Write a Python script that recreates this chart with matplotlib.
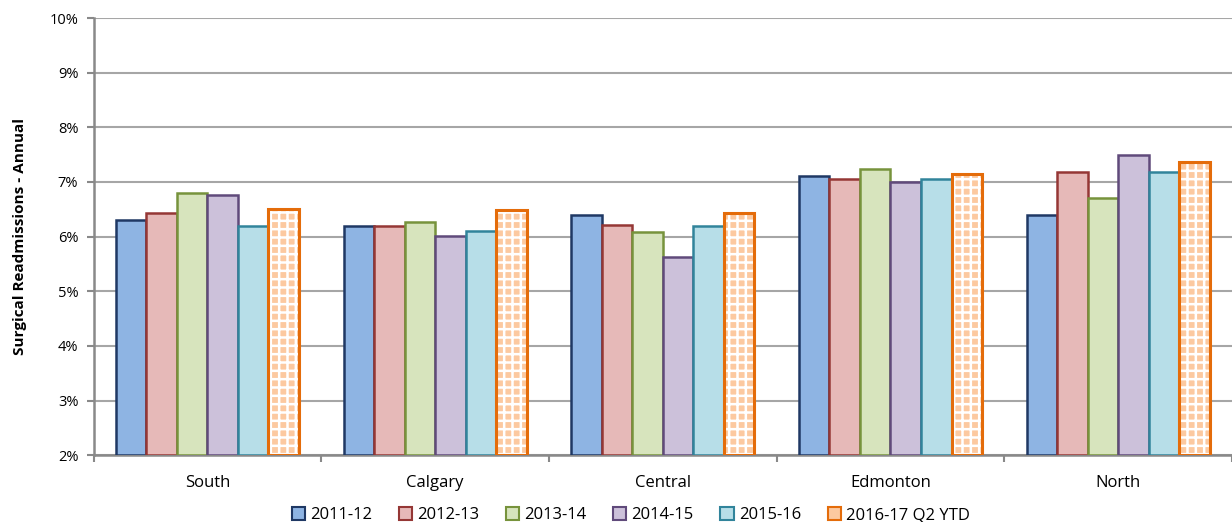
import matplotlib.pyplot as plt
import numpy as np
from matplotlib.patches import Patch

plt.rcParams["font.family"] = ["Open Sans", "DejaVu Sans"]
plt.rcParams["hatch.linewidth"] = 1.8

zones = ["South", "Calgary", "Central", "Edmonton", "North"]
years = ["2011-12", "2012-13", "2013-14", "2014-15", "2015-16", "2016-17 Q2 YTD"]

# readmission rate, %
r_2011 = [6.30, 6.20, 6.40, 7.10, 6.40]
r_2012 = [6.44, 6.19, 6.22, 7.05, 7.19]
r_2013 = [6.80, 6.27, 6.08, 7.23, 6.70]
r_2014 = [6.77, 6.01, 5.62, 7.00, 7.50]
r_2015 = [6.20, 6.10, 6.20, 7.05, 7.18]
r_2016 = [6.51, 6.48, 6.44, 7.15, 7.36]
series = [r_2011, r_2012, r_2013, r_2014, r_2015, r_2016]

fills = ["#8EB4E3", "#E6B9B8", "#D7E4BD", "#CCC1DA", "#B7DEE8", "#FCC9A0"]
edges = ["#1F3864", "#953735", "#77933C", "#604A7B", "#31849B", "#E46C0A"]

fig = plt.figure(figsize=(12.32, 5.22), dpi=100)
ax = fig.add_axes([0.076, 0.128, 0.924, 0.8375])

x = np.arange(len(zones))
w = 0.134
base = 2.0
for i, vals in enumerate(series):
    pos = x + (i - 2.5) * w
    h = np.array(vals) - base
    if i == 5:
        # checkered fill: light orange under a white grid
        ax.bar(pos, h, w, bottom=base, color=fills[i], edgecolor="white",
               hatch="++", linewidth=0, zorder=3)
        ax.bar(pos, h, w, bottom=base, facecolor="none", edgecolor=edges[i],
               linewidth=2.2, zorder=4)
    else:
        ax.bar(pos, h, w, bottom=base, color=fills[i], edgecolor=edges[i],
               linewidth=1.8, zorder=3)

ax.set_xlim(-0.5, 4.5)
ax.set_ylim(2, 10)
ax.set_yticks(range(2, 11))
ax.set_yticklabels([f"{v}%" for v in range(2, 11)], fontsize=10.5)
ax.yaxis.grid(True, color="#A6A6A6", linewidth=1.5, zorder=0)

ax.set_xticks(x)
ax.set_xticklabels(zones, fontsize=12)
ax.set_xticks(np.arange(-0.5, 5.0, 1.0), minor=True)
ax.tick_params(axis="x", which="major", length=0, pad=14)
ax.tick_params(axis="x", which="minor", length=5, width=1.5, color="#898989")
ax.tick_params(axis="y", length=5, width=1.5, color="#898989", pad=6)

for s in ["top", "right"]:
    ax.spines[s].set_visible(False)
for s in ["left", "bottom"]:
    ax.spines[s].set_color("#898989")
    ax.spines[s].set_linewidth(1.8)

ax.set_ylabel("Surgical Readmissions - Annual", fontsize=11,
              fontweight="bold", labelpad=16)

handles = [Patch(facecolor=fills[i], edgecolor=edges[i], linewidth=1.5,
                 label=lab) for i, lab in enumerate(years)]
fig.legend(handles=handles, loc="center", bbox_to_anchor=(0.512, 0.013),
           ncol=6, frameon=False, fontsize=12, handlelength=0.8,
           handleheight=0.8, handletextpad=0.3, columnspacing=1.6)

fig.savefig("out.png", dpi=100)
